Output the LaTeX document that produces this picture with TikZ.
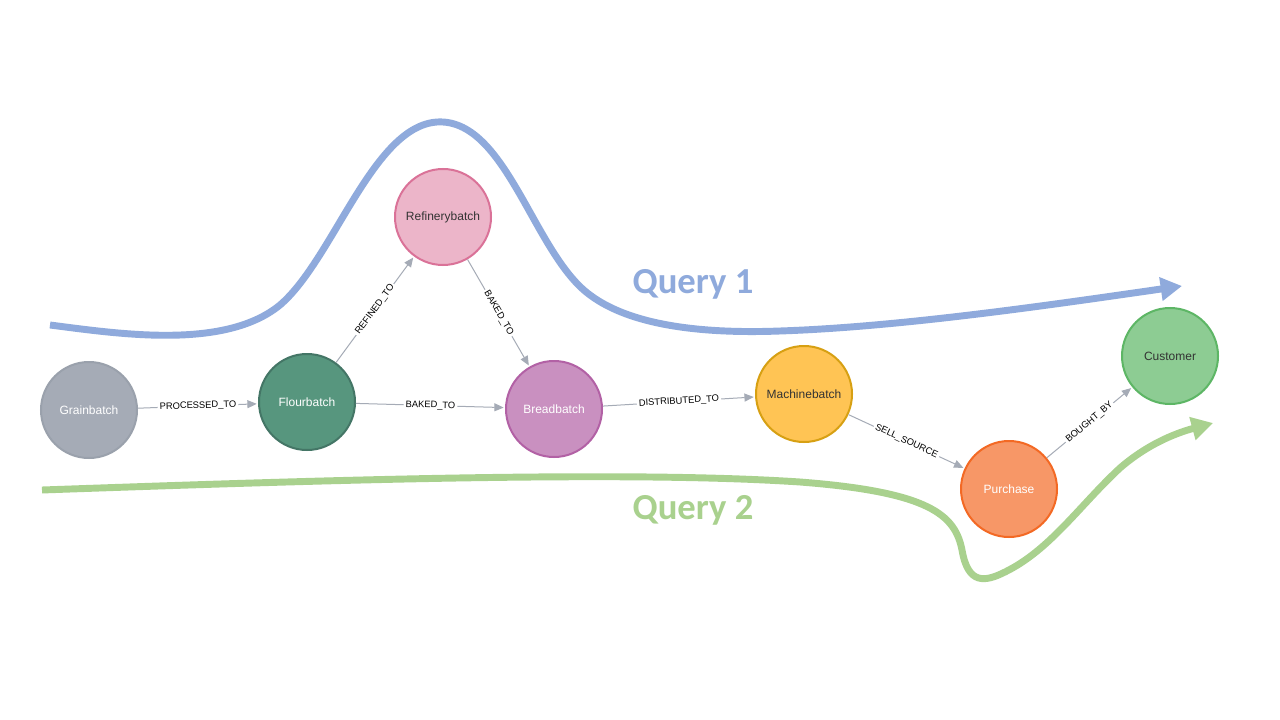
\documentclass[tikz,border=0pt]{standalone}
\usepackage{fontspec}
\setmainfont{Liberation Sans}
\newfontfamily\qfont{Carlito}
\usetikzlibrary{arrows.meta}
\definecolor{edgegray}{HTML}{A5ABB6}
\definecolor{qblue}{HTML}{8FAADC}
\definecolor{qgreen}{HTML}{A9D18E}
\definecolor{darktext}{HTML}{333333}
\definecolor{grainfill}{HTML}{A5ABB6}
\definecolor{graindraw}{HTML}{9AA1AC}
\definecolor{flourfill}{HTML}{57967E}
\definecolor{flourdraw}{HTML}{447666}
\definecolor{refinfill}{HTML}{ECB5C9}
\definecolor{refindraw}{HTML}{DA7298}
\definecolor{breadfill}{HTML}{C990C0}
\definecolor{breaddraw}{HTML}{B261A5}
\definecolor{machfill}{HTML}{FFC454}
\definecolor{machdraw}{HTML}{D7A013}
\definecolor{purchfill}{HTML}{F79767}
\definecolor{purchdraw}{HTML}{F36924}
\definecolor{custfill}{HTML}{8DCC93}
\definecolor{custdraw}{HTML}{5DB665}
\tikzset{
  gnode/.style={circle, minimum size=72pt, inner sep=0pt, line width=1.5pt, font=\fontsize{9pt}{10pt}\selectfont},
  rel/.style={draw=edgegray, line width=0.75pt, -{Triangle[length=7pt,width=6pt]}, shorten >=1pt},
  rellabel/.style={sloped, fill=white, inner sep=1.5pt, font=\fontsize{7pt}{8pt}\selectfont, text=black},
  query/.style={line width=5.2pt, line cap=butt, -{Triangle[length=16pt,width=17pt]}},
  qlabel/.style={font=\qfont\bfseries\fontsize{27.5pt}{31pt}\selectfont}
}
\begin{document}
\begin{tikzpicture}[x=0.75pt,y=-0.75pt]
\useasboundingbox[fill=white] (0,0) rectangle (1280,720);

% query curves
\draw[query, draw=qblue] (50,325) .. controls (120,334) and (225,350) .. (280,305)
  .. controls (335,258) and (375,118) .. (443,122)
  .. controls (508,126) and (535,255) .. (590,295)
  .. controls (630,325) and (700,334) .. (780,331)
  .. controls (900,327) and (1050,305) .. (1182,286);
\draw[query, draw=qgreen] (42,490) .. controls (300,481) and (620,470) .. (800,482)
  .. controls (930,492) and (955,515) .. (962,550)
  .. controls (968,585) and (985,582) .. (1005,572)
  .. controls (1050,550) and (1080,505) .. (1120,468)
  .. controls (1150,442) and (1180,432) .. (1213,423);

\node[qlabel, text=qblue] (q1) at (693,284) {Query 1};
\node[qlabel, text=qgreen] (q2) at (693,510) {Query 2};

% nodes
\node[gnode, fill=grainfill, draw=graindraw, text=white] (grain) at (89,410) {Grainbatch};
\node[gnode, fill=flourfill, draw=flourdraw, text=white] (flour) at (307,402) {Flourbatch};
\node[gnode, fill=refinfill, draw=refindraw, text=darktext] (refinery) at (443,217) {Refinerybatch};
\node[gnode, fill=breadfill, draw=breaddraw, text=white] (bread) at (554,409) {Breadbatch};
\node[gnode, fill=machfill, draw=machdraw, text=darktext] (machine) at (804,394) {Machinebatch};
\node[gnode, fill=purchfill, draw=purchdraw, text=white] (purchase) at (1009,489) {Purchase};
\node[gnode, fill=custfill, draw=custdraw, text=darktext] (customer) at (1170,356) {Customer};

% relationships
\draw[rel] (grain) -- node[rellabel] {PROCESSED\_TO} (flour);
\draw[rel] (flour) -- node[rellabel] {REFINED\_TO} (refinery);
\draw[rel] (refinery) -- node[rellabel] {BAKED\_TO} (bread);
\draw[rel] (flour) -- node[rellabel] {BAKED\_TO} (bread);
\draw[rel] (bread) -- node[rellabel] {DISTRIBUTED\_TO} (machine);
\draw[rel] (machine) -- node[rellabel] {SELL\_SOURCE} (purchase);
\draw[rel] (purchase) -- node[rellabel] {BOUGHT\_BY} (customer);
\end{tikzpicture}
\end{document}
